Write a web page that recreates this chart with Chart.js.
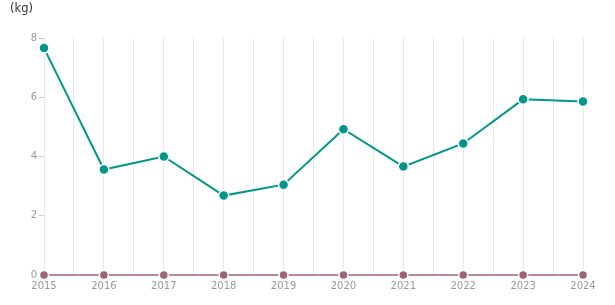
<!DOCTYPE html>
<html>
<head>
<meta charset="utf-8">
<script src="https://cdn.jsdelivr.net/npm/chart.js@4/dist/chart.umd.min.js"></script>
<style>
html,body{margin:0;padding:0;background:#fff;}
#wrap{position:relative;width:615px;height:305px;}
#unit{position:absolute;left:10px;top:1px;font-family:"DejaVu Sans",Arial,sans-serif;font-size:11.5px;color:#333;}
</style>
</head>
<body>
<div id="wrap">
<div id="unit">(kg)</div>
<canvas id="c" width="615" height="305"></canvas>
</div>
<script>
const years = [2015, 2016, 2017, 2018, 2019, 2020, 2021, 2022, 2023, 2024];
const seriesMain = [7.66, 3.56, 4.0, 2.68, 3.05, 4.92, 3.66, 4.44, 5.93, 5.86];
const seriesZero = [0, 0, 0, 0, 0, 0, 0, 0, 0, 0];
const yTicks = [0, 2, 4, 6, 8];

const toPts = arr => years.map((yr, i) => ({x: yr, y: arr[i]}));

new Chart(document.getElementById('c'), {
  type: 'line',
  data: {
    datasets: [
      {
        data: toPts(seriesMain),
        borderColor: '#009688',
        backgroundColor: '#009688',
        borderWidth: 2,
        pointRadius: 5,
        pointBorderColor: '#ffffff',
        pointBorderWidth: 1.5,
        pointBackgroundColor: '#009688',
        tension: 0,
        clip: false
      },
      {
        data: toPts(seriesZero),
        borderColor: '#9c6474',
        backgroundColor: '#9c6474',
        borderWidth: 1.5,
        pointRadius: 4.5,
        pointBorderColor: '#ffffff',
        pointBorderWidth: 1.5,
        pointBackgroundColor: '#9c6474',
        tension: 0,
        clip: false
      }
    ]
  },
  options: {
    responsive: false,
    animation: false,
    layout: {padding: {top: 38, right: 32, left: 0, bottom: 0}},
    plugins: {legend: {display: false}, tooltip: {enabled: false}},
    scales: {
      x: {
        type: 'linear',
        min: years[0],
        max: years[years.length - 1],
        afterBuildTicks: s => {
          const t = [];
          for (let v = years[0]; v <= years[years.length - 1] + 1e-9; v += 0.5) t.push({value: v});
          s.ticks = t;
        },
        afterFit: s => { s.height = 30; },
        grid: {color: '#e8e8e8', lineWidth: 1, drawTicks: false},
        border: {display: false},
        ticks: {
          padding: 5,
          autoSkip: false,
          maxRotation: 0,
          color: '#999999',
          font: {family: 'DejaVu Sans', size: 10},
          callback: v => Number.isInteger(v) ? String(v) : ''
        }
      },
      y: {
        min: 0,
        max: 8,
        afterBuildTicks: s => { s.ticks = yTicks.map(v => ({value: v})); },
        afterFit: s => { s.width = 44; },
        grid: {drawOnChartArea: false, drawTicks: true, tickLength: 5, color: '#cccccc'},
        border: {display: false},
        ticks: {
          padding: 2,
          color: '#999999',
          font: {family: 'DejaVu Sans', size: 10}
        }
      }
    }
  }
});
</script>
</body>
</html>
